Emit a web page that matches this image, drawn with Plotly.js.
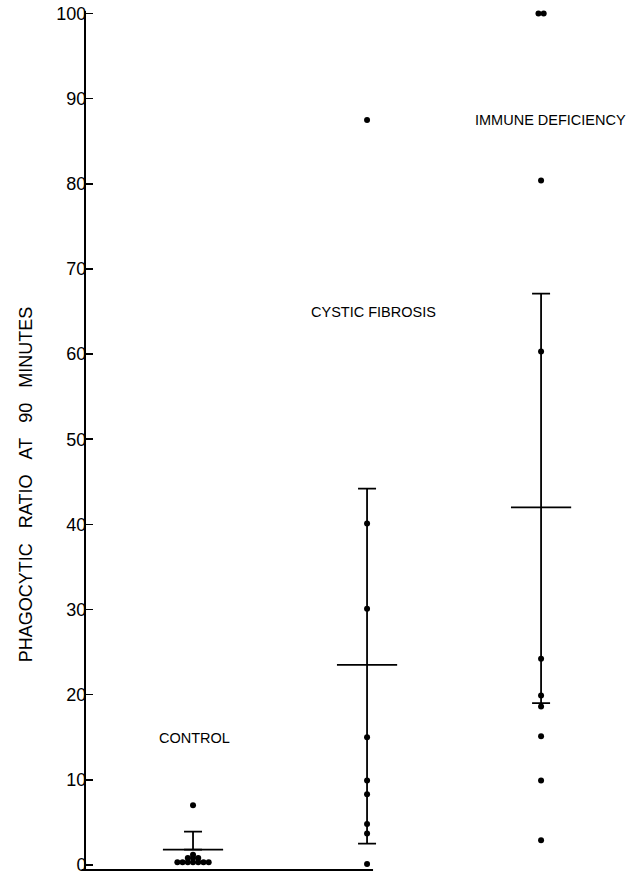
<!DOCTYPE html>
<html><head><meta charset="utf-8">
<script src="https://cdn.plot.ly/plotly-3.0.1.min.js"></script>
<style>html,body{margin:0;padding:0;background:#fff}</style>
</head><body><div id="chart" style="width:638px;height:875px"></div>
<script>
// Categories
const groups = ['CONTROL', 'CYSTIC FIBROSIS', 'IMMUNE DEFICIENCY'];
// Individual phagocytic ratios
const controlValues = [7.0, 1.2, 0.8, 0.8, 0.8, 0.3, 0.3, 0.3, 0.3, 0.3, 0.3, 0.3];
const cfValues = [87.5, 40.1, 30.1, 15.0, 9.9, 8.3, 4.8, 3.7, 0.1];
const idValues = [100, 100, 80.4, 60.3, 24.2, 19.9, 18.6, 15.1, 9.9, 2.9];
// Group means and error bar extents
const means = [1.8, 23.5, 42.0];
const errPlus = [2.1, 20.7, 25.1];
const errMinus = [0, 21.0, 23.0];
// Y axis ticks
const yTicks = [0, 10, 20, 30, 40, 50, 60, 70, 80, 90, 100];
const yTickText = ['0', '10', '20', '30', '40', '50', '60', '70', '80', '90', '100'];

const groupIndex = [1, 2, 3];
const allValues = [controlValues, cfValues, idValues];

// spread identical values side by side (dot-plot style)
function swarm(vals, center, dx) {
  const counts = {}, seen = {};
  vals.forEach(v => { counts[v] = (counts[v] || 0) + 1; });
  return vals.map(v => {
    const n = counts[v];
    const i = seen[v] || 0; seen[v] = i + 1;
    return center + (i - (n - 1) / 2) * dx;
  });
}

const traces = [];
traces.push({
  type: 'scatter', mode: 'markers',
  x: groupIndex, y: means,
  marker: { symbol: 'line-ew', size: 43, color: '#000', line: { width: 1.8, color: '#000' } },
  error_y: { type: 'data', symmetric: false, array: errPlus, arrayminus: errMinus,
             color: '#000', thickness: 1.8, width: 9 },
  cliponaxis: false, hoverinfo: 'skip'
});
allValues.forEach((vals, k) => {
  traces.push({
    type: 'scatter', mode: 'markers',
    x: swarm(vals, groupIndex[k], 0.03), y: vals,
    marker: { size: 6, color: '#000' },
    cliponaxis: false, name: groups[k]
  });
});

const font = 'Liberation Sans, Arial, sans-serif';
const sp = '\u00a0\u00a0\u00a0';
const layout = {
  width: 638, height: 875,
  margin: { l: 86, r: 0, t: 11, b: 5 },
  paper_bgcolor: '#fff', plot_bgcolor: '#fff',
  showlegend: false,
  xaxis: { range: [0.385, 3.557], showline: false, showgrid: false, zeroline: false,
           showticklabels: false, ticks: '' },
  yaxis: { range: [-0.6, 100.3], tickvals: yTicks, ticktext: yTickText,
           ticks: 'inside', ticklen: 7, tickwidth: 1.5, tickcolor: '#000',
           showline: true, linewidth: 2, linecolor: '#000',
           showgrid: false, zeroline: false, ticklabelstandoff: -6,
           ticklabeloverflow: 'allow',
           tickfont: { family: font, size: 18, color: '#000' } },
  shapes: [{ type: 'line', xref: 'paper', yref: 'paper', x0: -0.008, x1: 0.52, y0: 0, y1: 0,
             line: { color: '#000', width: 2 } }],
  annotations: [
    { text: groups[0], x: 1, y: 14.9, xref: 'x', yref: 'y', showarrow: false, xshift: 1,
      font: { family: font, size: 14.5, color: '#000' } },
    { text: groups[1], x: 2, y: 64.9, xref: 'x', yref: 'y', showarrow: false, xshift: 6,
      font: { family: font, size: 14.5, color: '#000' } },
    { text: groups[2], x: 3, y: 87.5, xref: 'x', yref: 'y', showarrow: false, xshift: 9,
      font: { family: font, size: 14.5, color: '#000' } },
    { text: 'PHAGOCYTIC' + sp + 'RATIO' + sp + 'AT' + sp + '90' + sp + 'MINUTES',
      xref: 'paper', yref: 'y', x: 0, y: 44.6, xshift: -60, textangle: -90,
      xanchor: 'center', yanchor: 'middle', showarrow: false,
      font: { family: font, size: 18, color: '#000' } }
  ]
};
Plotly.newPlot('chart', traces, layout, { staticPlot: true, displayModeBar: false });
</script>
</body></html>
